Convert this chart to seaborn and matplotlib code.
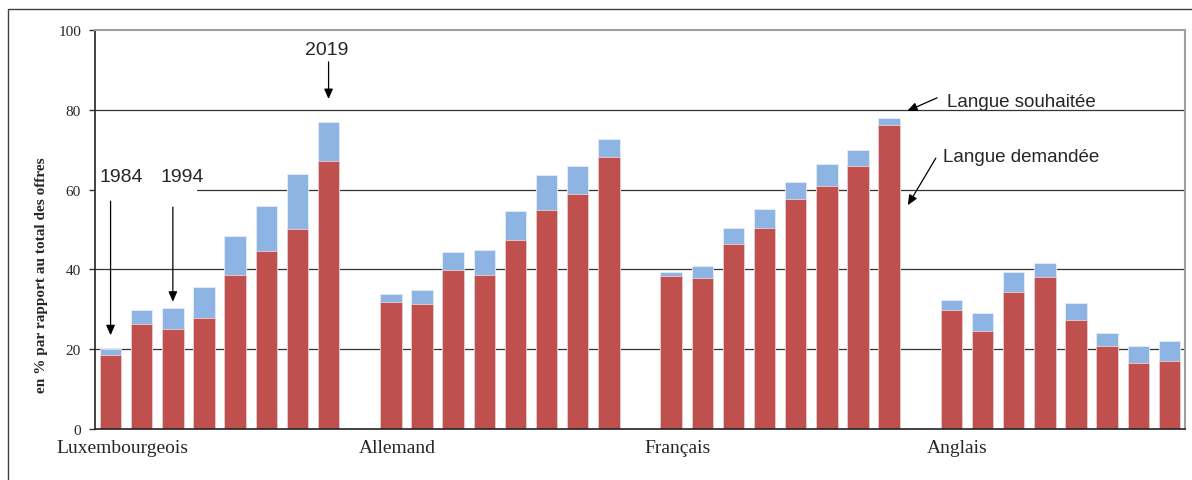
import pandas as pd
import seaborn as sns
import matplotlib.pyplot as plt
from matplotlib.patches import Rectangle

langues = ["Luxembourgeois", "Allemand", "Français", "Anglais"]
annees = [1984, 1989, 1994, 1999, 2004, 2009, 2014, 2019]

# langue demandee (partie rouge)
demandee_lux = [18.6, 26.3, 25.1, 27.8, 38.7, 44.5, 50.2, 67.2]
demandee_all = [31.9, 31.3, 39.9, 38.6, 47.4, 54.9, 58.9, 68.1]
demandee_fr = [38.4, 37.8, 46.3, 50.4, 57.6, 61.0, 65.8, 76.2]
demandee_ang = [29.8, 24.6, 34.3, 38.0, 27.3, 20.9, 16.6, 17.0]

# demandee + souhaitee (haut de la partie bleue)
total_lux = [20.0, 29.8, 30.3, 35.5, 48.4, 55.8, 63.8, 77.0]
total_all = [33.8, 34.9, 44.4, 44.9, 54.7, 63.7, 65.8, 72.8]
total_fr = [39.3, 40.9, 50.4, 55.1, 61.9, 66.3, 69.8, 78.0]
total_ang = [32.3, 29.1, 39.3, 41.5, 31.5, 24.1, 20.7, 22.0]

demandee = [demandee_lux, demandee_all, demandee_fr, demandee_ang]
total = [total_lux, total_all, total_fr, total_ang]

rows = []
for g, lang in enumerate(langues):
    for i, an in enumerate(annees):
        rows.append({"langue": lang, "annee": an, "pos": g * 9 + i,
                     "demandee": demandee[g][i], "total": total[g][i]})
df = pd.DataFrame(rows)

sns.set_style("white")
serif = "Liberation Serif"
sans = "Liberation Sans"

fig = plt.figure(figsize=(11.92, 4.81), dpi=100)
ax = fig.add_axes([95 / 1192, 1 - 430 / 481, 1090 / 1192, 399 / 481])

sns.barplot(data=df, x="pos", y="total", native_scale=True, color="#8EB4E3",
            saturation=1, width=0.69, edgecolor="#e4ecf7", linewidth=0.6,
            errorbar=None, ax=ax)
sns.barplot(data=df, x="pos", y="demandee", native_scale=True, color="#C0504D",
            saturation=1, width=0.69, edgecolor="#ead0d0", linewidth=0.6,
            errorbar=None, ax=ax)

ax.set_xlim(-0.5, 34.5)
ax.set_ylim(0, 100)
ax.set_yticks(range(0, 101, 20))
ax.set_yticklabels([str(v) for v in range(0, 101, 20)], fontfamily=serif, fontsize=11)
# etiquettes de groupe, un peu a droite de la premiere barre
ax.set_xticks([0.38, 9.2, 18.2, 27.2])
ax.set_xticklabels(langues, fontfamily=serif, fontsize=14)
ax.tick_params(axis="x", length=0, pad=7)
ax.tick_params(axis="y", length=4, width=1, pad=6, left=True, color="#333333")
ax.set_xlabel("")
ax.set_ylabel("")

for v in [20, 40, 60, 80]:
    ax.axhline(v, color="#333333", lw=0.9, zorder=0.5)

for side in ["left", "bottom"]:
    ax.spines[side].set_color("#222222")
    ax.spines[side].set_linewidth(1.2)
for side in ["top", "right"]:
    ax.spines[side].set_visible(True)
    ax.spines[side].set_color("#a0a0a0")
    ax.spines[side].set_linewidth(1.5)

fig.text(42 / 1192, 1 - 275 / 481, "en % par rapport au total des offres",
         rotation=90, ha="center", va="center", fontfamily=serif,
         fontweight="bold", fontsize=11)

# cadre exterieur
fig.patches.append(Rectangle((8 / 1192, -0.1), 1.2, 1.1 - 10 / 481,
                             transform=fig.transFigure, fill=False,
                             ec="#404040", lw=1))

# zone de texte blanche derriere 1984 / 1994
ax.add_patch(Rectangle((-0.5, 56), 3.28, 14, fc="white", ec="none", zorder=0.8))

arrow = dict(arrowstyle="-|>,head_length=0.5,head_width=0.22", color="black",
             lw=0.9, shrinkA=0, shrinkB=0, mutation_scale=12)

ax.text(0.34, 63.4, "1984", fontfamily=sans, fontsize=14, ha="center", va="center")
ax.annotate("", xy=(0, total_lux[0] + 3.5), xytext=(0, 57.1), arrowprops=arrow)
ax.text(2.29, 63.4, "1994", fontfamily=sans, fontsize=14, ha="center", va="center")
ax.annotate("", xy=(2, total_lux[2] + 1.6), xytext=(2, 55.6), arrowprops=arrow)
ax.text(6.95, 95.2, "2019", fontfamily=sans, fontsize=14, ha="center", va="center")
ax.annotate("", xy=(7, total_lux[7] + 5.7), xytext=(7, 92.0), arrowprops=arrow)

ax.text(26.86, 82.2, "Langue souhaitée", fontfamily=sans, fontsize=13.5,
        ha="left", va="center")
ax.annotate("", xy=(25.58, 79.7), xytext=(26.54, 83.0), arrowprops=arrow)
ax.text(26.73, 68.4, "Langue demandée", fontfamily=sans, fontsize=13.5,
        ha="left", va="center")
ax.annotate("", xy=(25.6, 56.1), xytext=(26.5, 67.9), arrowprops=arrow)

fig.savefig("out.png", dpi=100, facecolor="white")
